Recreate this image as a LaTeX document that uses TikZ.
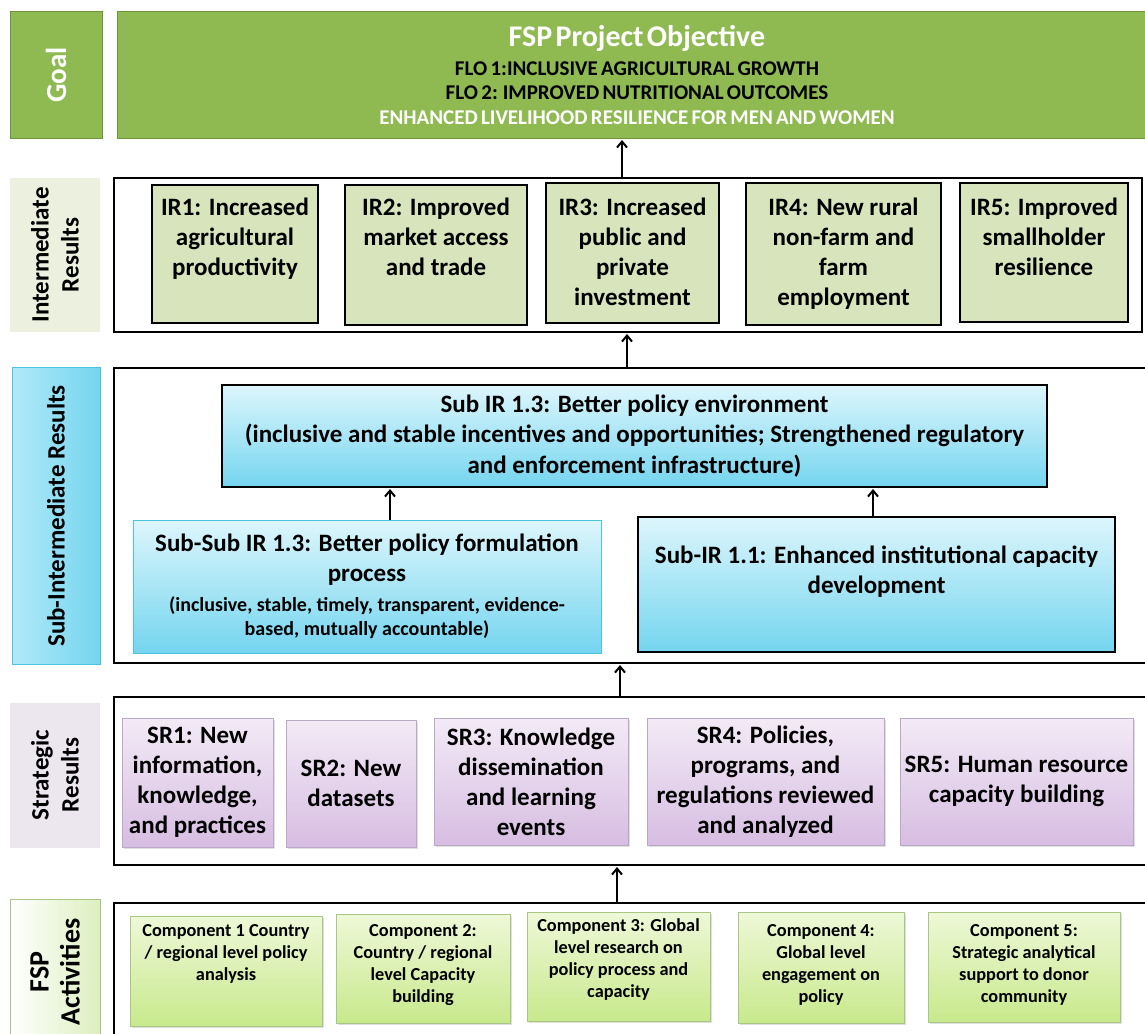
\documentclass[tikz,border=0pt]{standalone}
\usepackage{fontspec}
\setmainfont{Carlito}
\usetikzlibrary{arrows.meta,shadows}
\definecolor{goalfill}{HTML}{8FBA52}
\definecolor{goaledge}{HTML}{6F953D}
\definecolor{irlab}{HTML}{EBF0DF}
\definecolor{irfill}{HTML}{D8E4BC}
\definecolor{cyantop}{HTML}{DDF6FC}
\definecolor{cyanbot}{HTML}{74D5EF}
\definecolor{cyanedge}{HTML}{4CC3E0}
\definecolor{cyanlab}{HTML}{B2E9F8}
\definecolor{srlab}{HTML}{ECE6EE}
\definecolor{srtop}{HTML}{F3EAF6}
\definecolor{srbot}{HTML}{D7BDE2}
\definecolor{sredge}{HTML}{B9A9C6}
\definecolor{actlab}{HTML}{DDEFC0}
\definecolor{comptop}{HTML}{EEF8D8}
\definecolor{compbot}{HTML}{C8E98C}
\definecolor{compedge}{HTML}{A9C784}
\newcommand\topbox[4]{\parbox[c][#1][t]{#2}{\centering\vspace*{#3}\strut #4\par}}
\begin{document}
\begin{tikzpicture}[x=1pt,y=-1pt,
  every node/.style={inner sep=0pt, outer sep=0pt},
  bigfont/.style={font=\fontsize{25}{30}\selectfont\bfseries},
  smallfont/.style={font=\fontsize{18.3}{22}\selectfont\bfseries},
  container/.style={draw=black, line width=1.8pt, fill=white, anchor=north west},
  labbox/.style={rotate=90, align=center, bigfont},
  irbox/.style={draw=black, line width=2.5pt, fill=irfill, anchor=north west, bigfont},
  cyanbox/.style={draw=black, line width=2.5pt, top color=cyantop, bottom color=cyanbot, anchor=north west, bigfont, align=center},
  softcyan/.style={draw=cyanedge, line width=1pt, top color=cyantop, bottom color=cyanbot, anchor=north west, bigfont, align=center},
  srbox/.style={draw=sredge, line width=0.8pt, top color=srtop, bottom color=srbot, anchor=north west, bigfont, align=center,
    drop shadow={shadow xshift=1.5pt, shadow yshift=-1.5pt, opacity=0.25}},
  compbox/.style={draw=compedge, line width=0.8pt, top color=comptop, bottom color=compbot, anchor=north west, smallfont,
    drop shadow={shadow xshift=1.5pt, shadow yshift=-1.5pt, opacity=0.25}},
  arr/.style={draw=black, line width=2.4pt, -{Straight Barb[length=6pt,width=10pt,line width=2pt]}}
]
\useasboundingbox (0,0) rectangle (1145,1033);
\clip (0,0) rectangle (1145,1033);
\fill[white] (0,0) rectangle (1145,1033);

% ---------- left labels ----------
\node[labbox, fill=goalfill, draw=goaledge, line width=1pt, minimum width=126pt, minimum height=92pt, text=white,
  font=\fontsize{29}{32}\selectfont\bfseries] (lgoal) at (56,75) {Goal};
\node[labbox, fill=irlab, minimum width=154pt, minimum height=90pt] (lir) at (55,255) {Intermediate\\Results};
\node[labbox, top color=cyanlab, bottom color=cyanbot, shading angle=90, draw=cyanedge, line width=1pt,
  minimum width=297pt, minimum height=88pt] (lsir) at (56,516) {Sub-Intermediate Results};
\node[labbox, fill=srlab, minimum width=145pt, minimum height=90pt] (lsr) at (55,775) {Strategic\\Results};
\node[labbox, top color=white, bottom color=actlab, shading angle=90, draw=compedge, line width=0.6pt,
  minimum width=145pt, minimum height=90pt, font=\fontsize{28}{31}\selectfont\bfseries] (lact) at (55,972) {FSP\\Activities};

% ---------- goal ----------
\node[draw=goaledge, line width=1pt, fill=goalfill, anchor=north west, minimum width=1040pt, minimum height=126pt,
  text width=1000pt, align=center] (goal) at (117,12) {%
  {\fontsize{30}{32}\selectfont\bfseries\color{white} FSP Project Objective\par}\vspace{4pt}%
  {\fontsize{21}{24.5}\selectfont\bfseries FLO 1:INCLUSIVE AGRICULTURAL GROWTH\par
   FLO 2: IMPROVED NUTRITIONAL OUTCOMES\par
   \color{white}ENHANCED LIVELIHOOD RESILIENCE FOR MEN AND WOMEN\par}};

% ---------- containers ----------
\node[container, minimum width=1028pt, minimum height=154pt] (irc) at (114,178) {};
\node[container, minimum width=1040pt, minimum height=295pt] (sirc) at (114,368) {};
\node[container, minimum width=1040pt, minimum height=168pt] (src) at (114,697) {};
\node[container, minimum width=1040pt, minimum height=150pt] (actc) at (114,903) {};

% ---------- intermediate results ----------
\node[irbox] (ir1) at (152,185) {\topbox{138pt}{166pt}{9pt}{IR1: Increased\\agricultural\\productivity}};
\node[irbox] (ir2) at (345,185) {\topbox{140pt}{182pt}{9pt}{IR2: Improved\\market access\\and trade}};
\node[irbox] (ir3) at (546,183) {\topbox{140pt}{173pt}{11pt}{IR3: Increased\\public and\\private\\investment}};
\node[irbox] (ir4) at (746,183) {\topbox{142pt}{195pt}{11pt}{IR4: New rural\\non-farm and\\farm\\employment}};
\node[irbox] (ir5) at (960,183) {\topbox{139pt}{168pt}{11pt}{IR5: Improved\\smallholder\\resilience}};

% ---------- sub-intermediate results ----------
\node[cyanbox, minimum width=825pt, minimum height=102pt, font=\fontsize{25}{30.5}\selectfont\bfseries] (sub13) at (222,385)
  {Sub IR 1.3: Better policy environment\\(inclusive and stable incentives and opportunities; Strengthened regulatory\\and enforcement infrastructure)};
\node[softcyan, minimum width=468pt, minimum height=133pt] (subsub) at (133,520) {\parbox{466pt}{\centering
  {\fontsize{25}{30}\selectfont\bfseries Sub-Sub IR 1.3: Better policy formulation\\process\par}\vspace{6pt}%
  {\fontsize{20}{24}\selectfont\bfseries (inclusive, stable, timely, transparent, evidence-\\based, mutually accountable)\par}}};
\node[cyanbox] (sub11) at (638,517) {\topbox{135pt}{477pt}{25pt}{Sub-IR 1.1: Enhanced institutional capacity\\development}};

% ---------- strategic results ----------
\node[srbox, minimum width=151pt, minimum height=129pt] (sr1) at (122,718) {SR1: New\\information,\\knowledge,\\and practices};
\node[srbox, minimum width=130pt, minimum height=127pt] (sr2) at (286,720) {SR2: New\\datasets};
\node[srbox, minimum width=194pt, minimum height=127pt] (sr3) at (434,718) {SR3: Knowledge\\dissemination\\and learning\\events};
\node[srbox, minimum width=237pt, minimum height=127pt] (sr4) at (647,718) {SR4: Policies,\\programs, and\\regulations reviewed\\and analyzed};
\node[srbox, minimum width=233pt, minimum height=127pt] (sr5) at (900,718) {SR5: Human resource\\capacity building};

% ---------- activities ----------
\node[compbox] (c1) at (130,916) {\topbox{110pt}{192pt}{5pt}{Component 1 Country\\/ regional level policy\\analysis}};
\node[compbox] (c2) at (336,914) {\topbox{109pt}{174pt}{7pt}{Component 2:\\Country / regional\\level Capacity\\building}};
\node[compbox] (c3) at (527,912) {\topbox{109pt}{183pt}{4pt}{Component 3: Global\\level research on\\policy process and\\capacity}};
\node[compbox] (c4) at (738,912) {\topbox{111pt}{166pt}{9pt}{Component 4:\\Global level\\engagement on\\policy}};
\node[compbox] (c5) at (928,912) {\topbox{110pt}{192pt}{9pt}{Component 5:\\Strategic analytical\\support to donor\\community}};

% ---------- connectors ----------
\coordinate (xa) at (622,0);
\coordinate (xb) at (627,0);
\coordinate (xc) at (390,0);
\coordinate (xd) at (873,0);
\coordinate (xe) at (620,0);
\coordinate (xf) at (617,0);
\draw[arr] (irc.north -| xa) -- ([yshift=-2pt]goal.south -| xa);
\draw[arr] (sirc.north -| xb) -- ([yshift=-2pt]irc.south -| xb);
\draw[arr] (subsub.north -| xc) -- ([yshift=-2pt]sub13.south -| xc);
\draw[arr] (sub11.north -| xd) -- ([yshift=-2pt]sub13.south -| xd);
\draw[arr] (src.north -| xe) -- ([yshift=-2pt]sirc.south -| xe);
\draw[arr] (actc.north -| xf) -- ([yshift=-2pt]src.south -| xf);
\end{tikzpicture}
\end{document}
